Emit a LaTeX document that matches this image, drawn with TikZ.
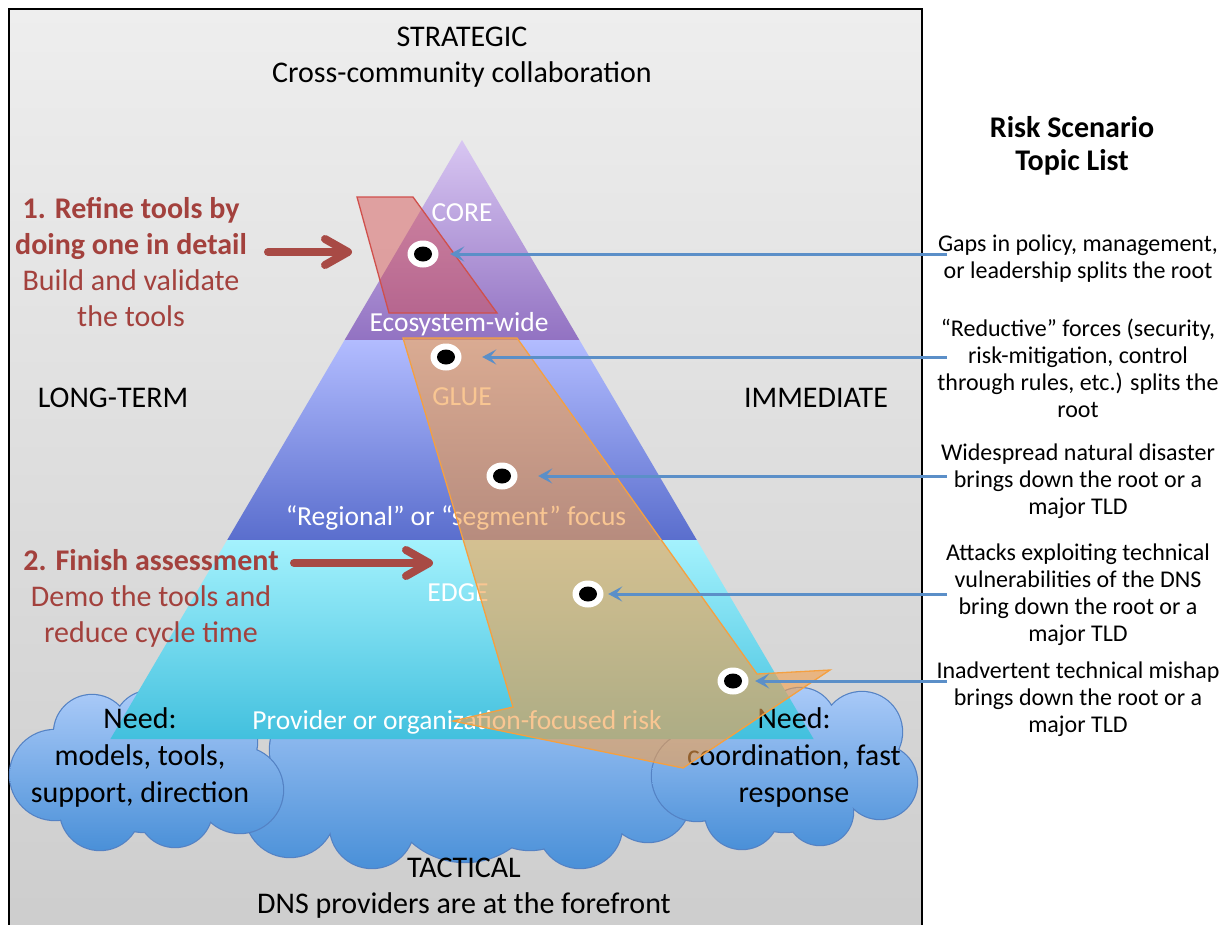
\documentclass[tikz,border=0pt]{standalone}
\usepackage{fontspec}
\setmainfont{Carlito}
\usetikzlibrary{arrows.meta,shapes.geometric}
\definecolor{bgtop}{RGB}{238,238,238}
\definecolor{bgbot}{RGB}{205,205,205}
\definecolor{purtop}{RGB}{216,198,242}
\definecolor{purbot}{RGB}{146,114,194}
\definecolor{blutop}{RGB}{178,188,255}
\definecolor{blubot}{RGB}{90,110,205}
\definecolor{cyatop}{RGB}{164,242,253}
\definecolor{cyabot}{RGB}{66,192,222}
\definecolor{cldtop}{RGB}{170,202,248}
\definecolor{cldbot}{RGB}{74,144,216}
\definecolor{cldline}{RGB}{84,130,196}
\definecolor{orng}{RGB}{245,160,74}
\definecolor{orngline}{RGB}{245,160,64}
\definecolor{redf}{RGB}{215,75,75}
\definecolor{redline}{RGB}{208,80,76}
\definecolor{redtxt}{RGB}{163,65,61}
\definecolor{redarr}{RGB}{168,74,69}
\definecolor{bluarr}{RGB}{91,143,200}
\begin{document}
\begin{tikzpicture}[x=1pt,y=-1pt,
  lbl/.style={inner sep=0pt, anchor=base, align=center},
  f30/.style={font=\fontsize{30}{36}\selectfont},
  f30c/.style={font=\fontsize{30}{37}\selectfont},
  f24/.style={font=\fontsize{24}{27}\selectfont},
  f26/.style={font=\fontsize{27.5}{31}\selectfont},
  rtxt/.style={text=redtxt},
  wtxt/.style={text=white},
  cloudedge/.style={draw=cldline, line width=2.4pt},
  cloudfill/.style={nonzero rule, top color=cldtop, bottom color=cldbot},
  dot/.style={ellipse, fill=white, minimum width=31pt, minimum height=27pt, inner sep=0pt,
    path picture={\fill[black] (path picture bounding box.center) ellipse [x radius=9pt, y radius=7.5pt];}},
  bluearrow/.style={draw=bluarr, line width=3pt, -{Stealth[length=14pt, width=15pt, inset=6pt]}},
  redarrow/.style={draw=redarr, line width=8pt, line cap=round, -{Straight Barb[length=23pt, width=26pt, line cap=round, line join=round]}}
]
\useasboundingbox (0,0) rectangle (1230,924);
\fill[white] (0,0) rectangle (1230,924);
% background panel
\shade[top color=bgtop, bottom color=bgbot] (9,9) rectangle (922,940);
\draw[black, line width=1.5pt] (9,940) -- (9,9) -- (922,9) -- (922,940);

% middle cloud
\def\cloudM{(290,812) circle[radius=45] (372,826) circle[radius=42] (470,815) circle[radius=45] (580,826) circle[radius=42] (648,800) circle[radius=42] (330,750) circle[radius=60] (470,745) circle[radius=70] (610,752) circle[radius=60] (465,782) circle[radius=80] (395,762) circle[radius=42] (530,790) circle[radius=60]}
\draw[cloudedge] \cloudM;
\shade[cloudfill] \cloudM;
% left cloud
\def\cloudL{(55,775) circle[radius=45] (92,733) circle[radius=38] (150,727) circle[radius=36] (215,742) circle[radius=42] (240,790) circle[radius=43] (175,810) circle[radius=37] (100,810) circle[radius=40] (145,772) circle[radius=60]}
\draw[cloudedge] \cloudL;
\shade[cloudfill] \cloudL;
% right cloud
\def\cloudR{(697,776) circle[radius=45] (732,730) circle[radius=38] (800,724) circle[radius=36] (862,732) circle[radius=40] (880,782) circle[radius=37] (820,812) circle[radius=33] (742,812) circle[radius=37] (785,772) circle[radius=60]}
\draw[cloudedge] \cloudR;
\shade[cloudfill] \cloudR;

% pyramid
\shade[top color=purtop, bottom color=purbot] (462,140) -- (579.4,340) -- (344.6,340) -- cycle;
\shade[top color=blutop, bottom color=blubot] (344.6,340) -- (579.4,340) -- (696.8,540) -- (227.2,540) -- cycle;
\shade[top color=cyatop, bottom color=cyabot] (227.2,540) -- (696.8,540) -- (813.6,739) -- (110.4,739) -- cycle;

% pyramid labels
\node[lbl, f26, wtxt] (core) at (462,221) {CORE};
\node[lbl, f26, wtxt] (eco) at (459,331) {Ecosystem-wide};
\node[lbl, f26, wtxt] (glue) at (462,405) {GLUE};
\node[lbl, f26, wtxt] (reg) at (456,525) {“Regional” or “segment” focus};
\node[lbl, f26, wtxt] (edge) at (458,601) {EDGE};
\node[lbl, f26, wtxt] (prov) at (457,729) {Provider or organization-focused risk};

% cloud texts (base = last line)
\node[lbl, f30c] (needL) at (140,802) {Need:\\models, tools,\\support, direction};
\node[lbl, f30c] (needR) at (794,802) {Need:\\coordination, fast\\response};

% overlays
\filldraw[fill=orng, fill opacity=0.6, draw=orngline, line width=1.3pt]
  (403,338) -- (517,338) -- (757,674) -- (830,670) -- (683,768) -- (453,721) -- (513,707) -- cycle;
\filldraw[fill=redf, fill opacity=0.45, draw=redline, line width=1.3pt]
  (357,197) -- (413,197) -- (497,313) -- (389,313) -- cycle;

% dots
\node[dot] (d1) at (423,254) {};
\node[dot] (d2) at (446,357) {};
\node[dot] (d3) at (502,476) {};
\node[dot] (d4) at (588,594) {};
\node[dot] (d5) at (733,681) {};

% frame texts
\node[lbl, f30] (strat) at (462,82) {STRATEGIC\\Cross-community collaboration};
\node[lbl, f30] (tact) at (464,913) {TACTICAL\\DNS providers are at the forefront};
\node[lbl, f30] (long) at (113,407) {LONG-TERM};
\node[lbl, f30] (imm) at (816,407) {IMMEDIATE};

% red texts
\node[lbl, f30, rtxt] (step1) at (131,326) {\textbf{1. Refine tools by}\\\textbf{doing one in detail}\\Build and validate\\the tools};
\node[lbl, f30, rtxt] (step2) at (151,642) {\textbf{2. Finish assessment}\\Demo the tools and\\reduce cycle time};
\coordinate (r1s) at (268,252);
\coordinate (r1e) at (352,252);
\coordinate (r2s) at (294,563);
\coordinate (r2e) at (433,563);
\draw[redarrow] (r1s) -- (r1e);
\draw[redarrow] (r2s) -- (r2e);

% right column
\node[lbl, font=\bfseries\fontsize{30}{33}\selectfont] (title) at (1072,170) {Risk Scenario\\Topic List};
\node[lbl, f24] (t1) at (1078,278) {Gaps in policy, management,\\or leadership splits the root};
\node[lbl, f24] (t2) at (1078,417) {“Reductive” forces (security,\\risk-mitigation, control\\through rules, etc.) splits the\\root};
\node[lbl, f24] (t3) at (1078,514) {Widespread natural disaster\\brings down the root or a\\major TLD};
\node[lbl, f24] (t4) at (1078,641) {Attacks exploiting technical\\vulnerabilities of the DNS\\bring down the root or a\\major TLD};
\node[lbl, f24] (t5) at (1078,732) {Inadvertent technical mishap\\brings down the root or a\\major TLD};

% blue arrows
\coordinate (s1) at (947,254);
\coordinate (s2) at (947,357);
\coordinate (s3) at (947,476);
\coordinate (s4) at (947,594);
\coordinate (s5) at (947,681);
\draw[bluearrow, shorten >=11.5pt] (s1) -- (d1);
\draw[bluearrow, shorten >=20.5pt] (s2) -- (d2);
\draw[bluearrow, shorten >=20.5pt] (s3) -- (d3);
\draw[bluearrow, shorten >=4.5pt] (s4) -- (d4);
\draw[bluearrow, shorten >=6.5pt] (s5) -- (d5);
\end{tikzpicture}
\end{document}
